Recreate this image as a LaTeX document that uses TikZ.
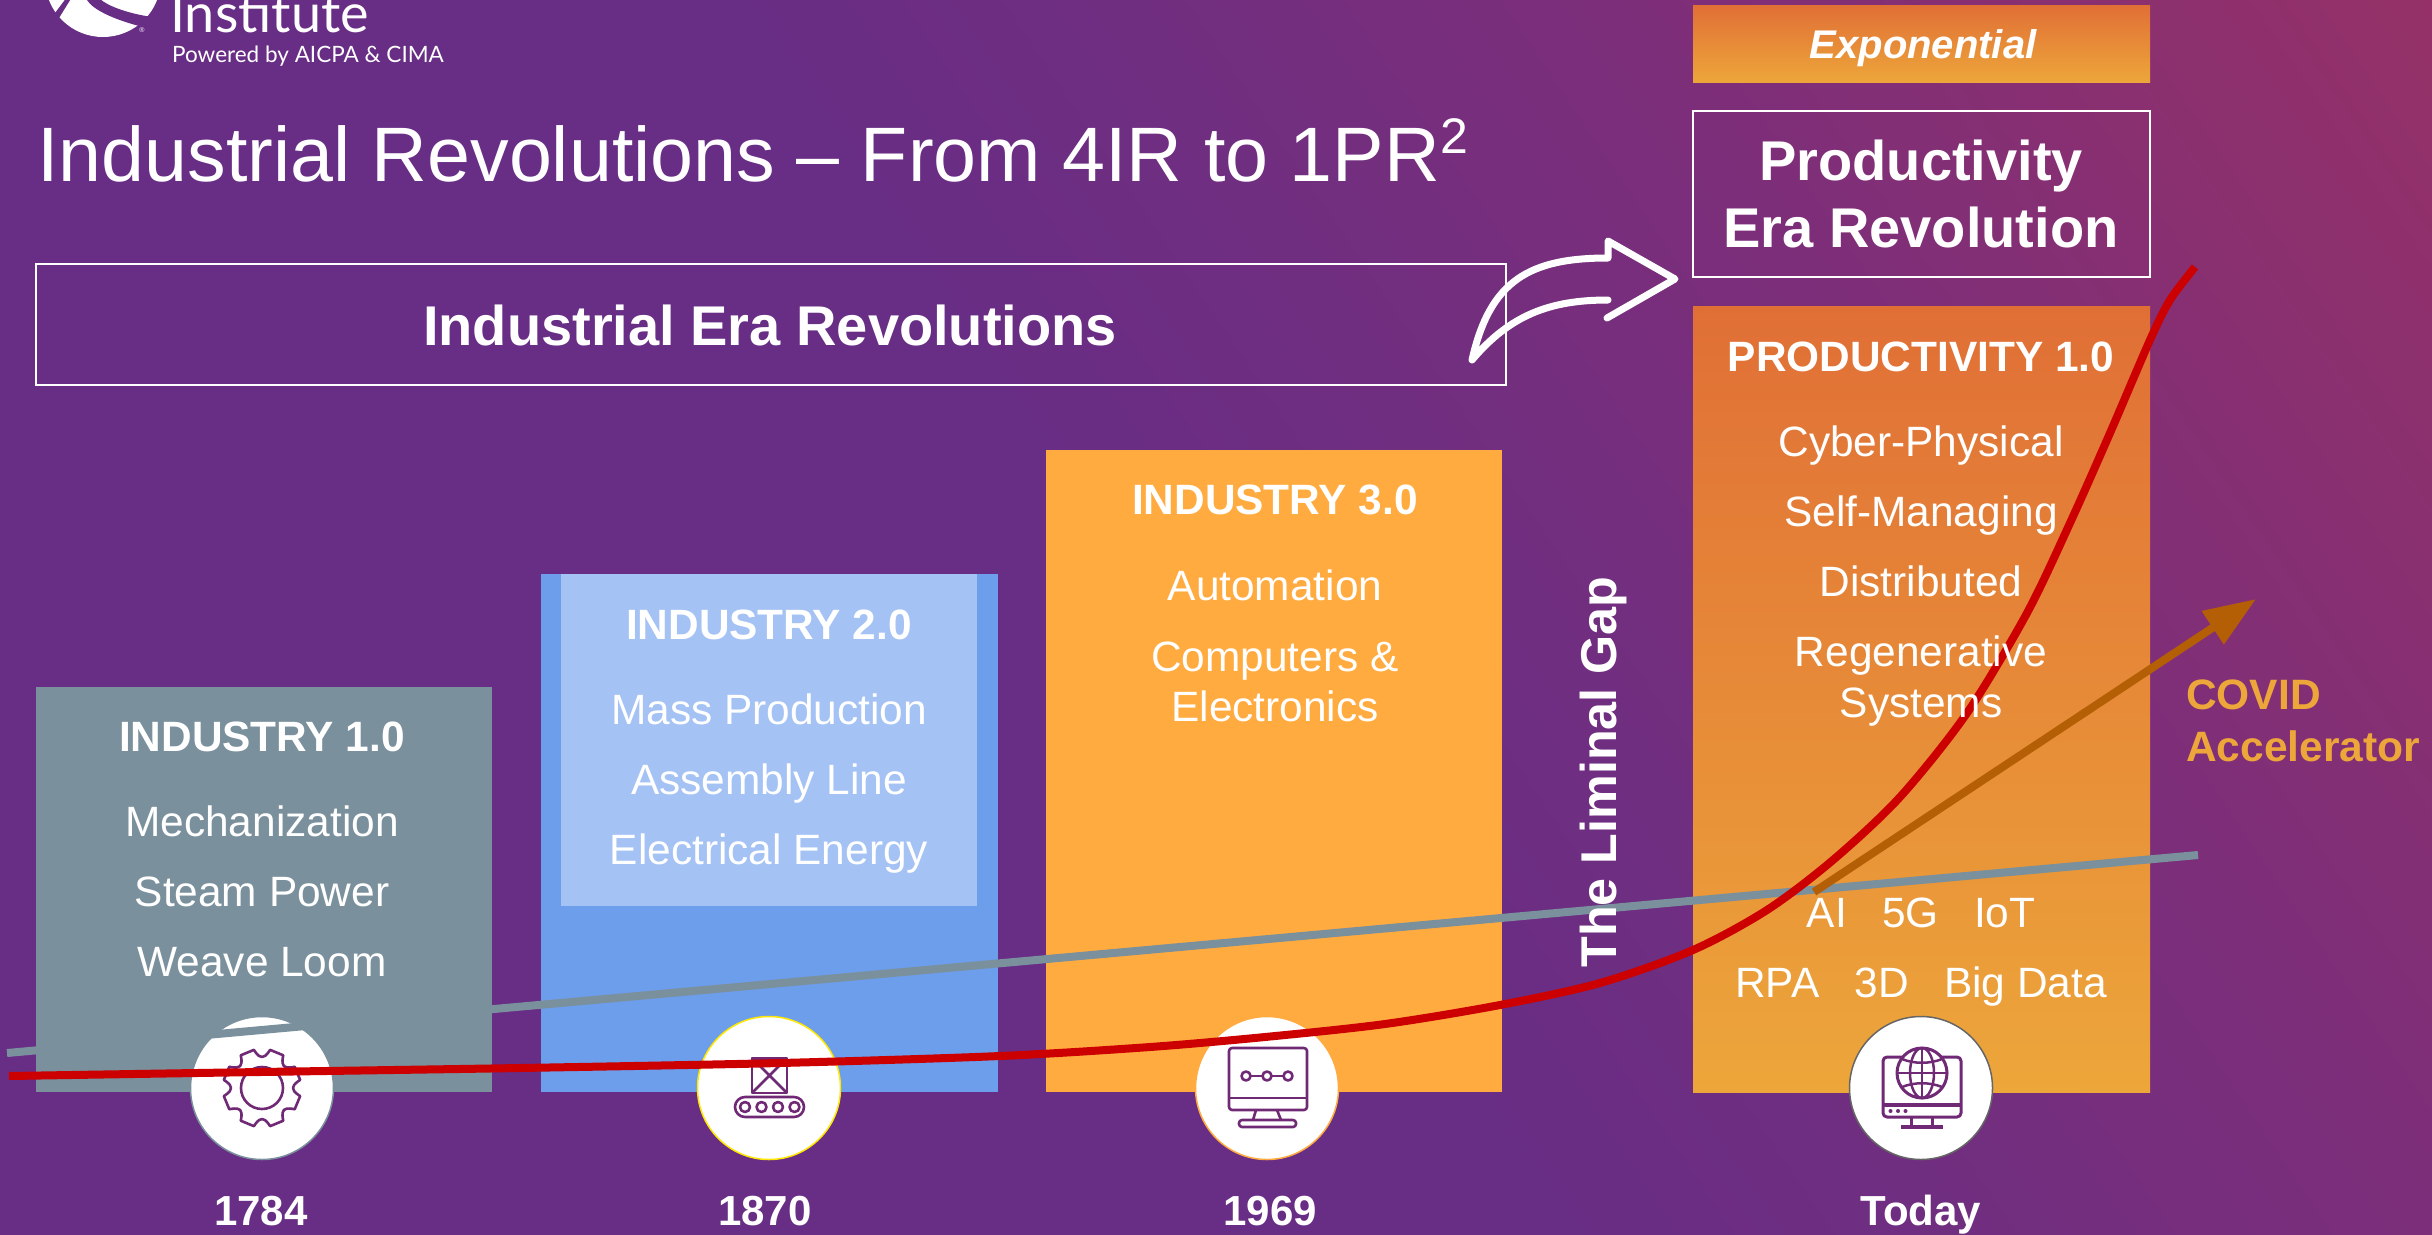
\documentclass[tikz,border=0pt]{standalone}
\usepackage{fontspec}
\setmainfont{Liberation Sans}
\newfontfamily\logofont{Lato}
\usetikzlibrary{arrows.meta}
\definecolor{bgbase}{HTML}{682D85}
\definecolor{bgb}{HTML}{702E80}
\definecolor{bgc}{HTML}{7C2E7A}
\definecolor{bgd}{HTML}{953168}
\definecolor{slate}{HTML}{7A909C}
\definecolor{bluebox}{HTML}{6D9EEB}
\definecolor{bluein}{HTML}{A4C2F4}
\definecolor{amber}{HTML}{FFAB40}
\definecolor{orangetop}{HTML}{E06F36}
\definecolor{orangebot}{HTML}{EDA63A}
\definecolor{redline}{HTML}{CC0000}
\definecolor{brownline}{HTML}{B45F06}
\definecolor{iconcol}{HTML}{702A75}
\pgfdeclarehorizontalshading{bgshade}{100bp}{color(0bp)=(bgbase); color(48bp)=(bgbase); color(59bp)=(bgb); color(72bp)=(bgc); color(95bp)=(bgd); color(100bp)=(bgd)}
\newcommand{\fs}[1]{\fontsize{#1}{#1}\selectfont}
\tikzset{
  x=1pt,y=-1pt,
  lbl/.style={text=white,anchor=base,inner sep=0pt,font=\fs{42.4}},
  hdr/.style={text=white,anchor=base,inner sep=0pt,font=\fs{42.4}\bfseries},
  big/.style={text=white,anchor=base,inner sep=0pt,font=\fs{56}\bfseries},
  yr/.style={text=white,anchor=base,inner sep=0pt,font=\fs{42}\bfseries},
  outlinebox/.style={draw=white,line width=2pt,inner sep=0pt,outer sep=0pt,anchor=north west},
  solidbox/.style={inner sep=0pt,outer sep=0pt,anchor=north west},
  disc/.style={circle,fill=white,minimum size=143pt,inner sep=0pt,line width=1.5pt},
  ico/.style={draw=iconcol,line width=2.6pt,line join=round},
  curveline/.style={line width=8pt},
}
\begin{document}
\begin{tikzpicture}
\useasboundingbox (0,0) rectangle (2432,1234);
% background
\begin{scope}
\clip (0,0) rectangle (2432,1234);
\begin{pgfscope}
\pgftransformshift{\pgfqpoint{1216pt}{-617pt}}
\pgftransformrotate{34}
\pgftransformscale{30}
\pgflowlevelsynccm
\pgfuseshading{bgshade}
\end{pgfscope}
\end{scope}
% logo
\begin{scope}
\clip (0,0) rectangle (2432,1234);
\fill[white] (103,-21) circle (58);
\fill[bgbase] (67,-3) -- (55,13) -- (59,18) -- (72,-3) -- cycle;
\fill[bgbase] (87,-3) -- (87,0) .. controls (93,10) and (115,20) .. (143,27) -- (152,17) .. controls (125,13) and (105,5) .. (98,-3) -- cycle;
\end{scope}
\node[text=white,anchor=base west,inner sep=0pt,font=\logofont\fs{54}] (inst) at (170,32) {Institute};
\node[text=white,anchor=base west,inner sep=0pt,font=\logofont\fs{22.5}] (powered) at (172,62) {Powered by AICPA \& CIMA};
\node[text=white,inner sep=0pt,font=\fs{7}] (reg) at (142,30) {®};
% title
\node[text=white,anchor=base west,inner sep=0pt,font=\fs{77.2}] (title) at (37,181) {Industrial Revolutions – From 4IR to 1PR\raisebox{0.36em}{\fs{50}2}};
% banner boxes
\node[outlinebox,minimum width=1470pt,minimum height=121pt] (eraBox) at (36,264) {};
\node[big] (eraTxt) at (770,345) {Industrial Era Revolutions};
\node[solidbox,minimum width=457pt,minimum height=77pt,top color=orangetop,bottom color=orangebot] (expBox) at (1693,5) {};
\node[text=white,anchor=base,inner sep=0pt,font=\fs{40}\bfseries\itshape] (expTxt) at (1923,58) {Exponential};
\node[outlinebox,minimum width=457pt,minimum height=166pt] (perBox) at (1693,111) {};
\node[big] (perA) at (1921,180) {Productivity};
\node[big] (perB) at (1921,247) {Era Revolution};
% column boxes
\node[solidbox,fill=slate,minimum width=456pt,minimum height=405pt] (ind1) at (36,687) {};
\node[solidbox,fill=bluebox,minimum width=457pt,minimum height=518pt] (ind2) at (541,574) {};
\node[solidbox,fill=bluein,minimum width=416pt,minimum height=332pt] (ind2in) at (561,574) {};
\node[solidbox,fill=amber,minimum width=456pt,minimum height=642pt] (ind3) at (1046,450) {};
\node[solidbox,minimum width=457pt,minimum height=786pt,top color=orangetop,bottom color=orangebot] (prod) at (1693,306) {};
% discs
\node[disc,draw=slate] (c1) at (262,1088) {};
\node[disc,draw=yellow!90!orange] (c2) at (769,1088) {};
\node[disc,draw=amber] (c3) at (1267,1088) {};
\node[disc,draw=black!60] (c4) at (1921,1088) {};
% gear icon
\begin{scope}[shift={(262,1088)}]
\draw[ico] (0,0) circle (21);
\draw[ico] (12:39) \foreach \a in {0,45,...,315}{ -- (\a+12:39) -- (\a+33:39) .. controls (\a+38:32) and (\a+42:31) .. (\a+45:31) .. controls (\a+48:31) and (\a+52:32) .. (\a+57:39)} -- cycle;
\end{scope}
% conveyor icon
\draw[ico] (752,1058) rectangle (787,1093);
\draw[ico] (752,1058) -- (787,1093) (787,1058) -- (752,1093);
\draw[ico,line width=5pt] (752,1059) -- (787,1059);
\draw[ico,rounded corners=10pt] (735,1097) rectangle (804,1117);
\foreach \x in {745,761.5,778,794.5}{\draw[ico] (\x,1107) circle (5);}
% monitor icon
\draw[ico,rounded corners=3pt] (1229,1048) rectangle (1307,1110);
\draw[ico] (1229,1098) -- (1307,1098);
\draw[ico] (1250.5,1076) -- (1262.5,1076) (1271.5,1076) -- (1283.5,1076);
\foreach \x in {1246,1267,1288}{\draw[ico] (\x,1076) circle (4.5);}
\draw[ico] (1256,1110) -- (1253,1120) (1277,1110) -- (1281,1120);
\draw[ico,rounded corners=3pt] (1239,1127) -- (1239,1120) -- (1296,1120) -- (1296,1127) -- cycle;
% today icon
\draw[ico,line width=3pt,rounded corners=4pt] (1883,1057) rectangle (1961,1117);
\draw[ico,line width=4pt] (1883,1105) -- (1961,1105);
\foreach \x in {1890.5,1898,1905.5}{\fill[iconcol] (\x,1111) circle (2);}
\draw[ico,line width=3pt] (1911,1117) -- (1911,1126) (1932,1117) -- (1932,1126);
\draw[ico,line width=4pt] (1901,1127) -- (1943,1127);
\begin{scope}[shift={(1922,1073)}]
\draw[ico,line width=3pt,fill=white] (0,0) circle (25);
\draw[ico,line width=2.5pt] (0,0) ellipse (12 and 25);
\draw[ico,line width=2.5pt] (0,-25) -- (0,25) (-25,0) -- (25,0);
\draw[ico,line width=2.5pt] (-20,-14) .. controls (-8,-9) and (8,-9) .. (20,-14);
\draw[ico,line width=2.5pt] (-20,14) .. controls (-8,9) and (8,9) .. (20,14);
\end{scope}
% curves
\coordinate (greyA) at (7,1053);
\coordinate (greyB) at (2198,855);
\draw[curveline,slate] (greyA) -- (greyB);
\coordinate (covA) at (1814,892);
\coordinate (covB) at (2256,599);
\draw[line width=8pt,brownline,-{Triangle[length=52pt,width=38pt]}] (covA) -- (covB);
\draw[curveline,redline,line cap=butt] plot[smooth,tension=0.5] coordinates {(9,1076) (260,1072) (520,1068) (780,1063) (1000,1056) (1150,1047) (1265,1037) (1385,1024) (1500,1005) (1600,983) (1693,950) (1767,910) (1833,860) (1900,797) (1967,713) (2027,613) (2070,523) (2110,433) (2150,340) (2170,300) (2195,267)};
% turn arrow
\draw[white,line width=7pt,line join=round,line cap=round]
 (1472,360) .. controls (1490,280) and (1530,258) .. (1608,258) -- (1608,241) -- (1675,279) -- (1607,318)
 (1608,300) .. controls (1550,300) and (1510,315) .. (1472,360);
% column texts
\node[hdr] (h1) at (262,751) {INDUSTRY 1.0};
\node[lbl] (t11) at (262,836) {Mechanization};
\node[lbl] (t12) at (262,906) {Steam Power};
\node[lbl] (t13) at (262,976) {Weave Loom};
\node[hdr] (h2) at (769,639) {INDUSTRY 2.0};
\node[lbl] (t21) at (769,724) {Mass Production};
\node[lbl] (t22) at (769,794) {Assembly Line};
\node[lbl] (t23) at (769,864) {Electrical Energy};
\node[hdr] (h3) at (1275,514) {INDUSTRY 3.0};
\node[lbl] (t31) at (1275,600) {Automation};
\node[lbl] (t32) at (1275,671) {Computers \&};
\node[lbl] (t33) at (1275,721) {Electronics};
\node[hdr] (h4) at (1921,371) {PRODUCTIVITY 1.0};
\node[lbl] (t41) at (1921,456) {Cyber-Physical};
\node[lbl] (t42) at (1921,526) {Self-Managing};
\node[lbl] (t43) at (1921,596) {Distributed};
\node[lbl] (t44) at (1921,666) {Regenerative};
\node[lbl] (t45) at (1921,717) {Systems};
\node[lbl] (t46) at (1921,927) {AI\ \ \ 5G\ \ \ IoT};
\node[lbl] (t47) at (1921,997) {RPA\ \ \ 3D\ \ \ Big Data};
\node[text=white,inner sep=0pt,font=\fs{50.3}\bfseries,rotate=90,anchor=center] (gap) at (1603,772) {The Liminal Gap};
\node[text=orangebot,anchor=base west,inner sep=0pt,font=\fs{42.5}\bfseries] (cv1) at (2186,709) {COVID};
\node[text=orangebot,anchor=base west,inner sep=0pt,font=\fs{42.5}\bfseries] (cv2) at (2186,761) {Accelerator};
\node[yr] (y1) at (261,1225) {1784};
\node[yr] (y2) at (765,1225) {1870};
\node[yr] (y3) at (1270,1225) {1969};
\node[yr] (y4) at (1921,1225) {Today};
\end{tikzpicture}
\end{document}
